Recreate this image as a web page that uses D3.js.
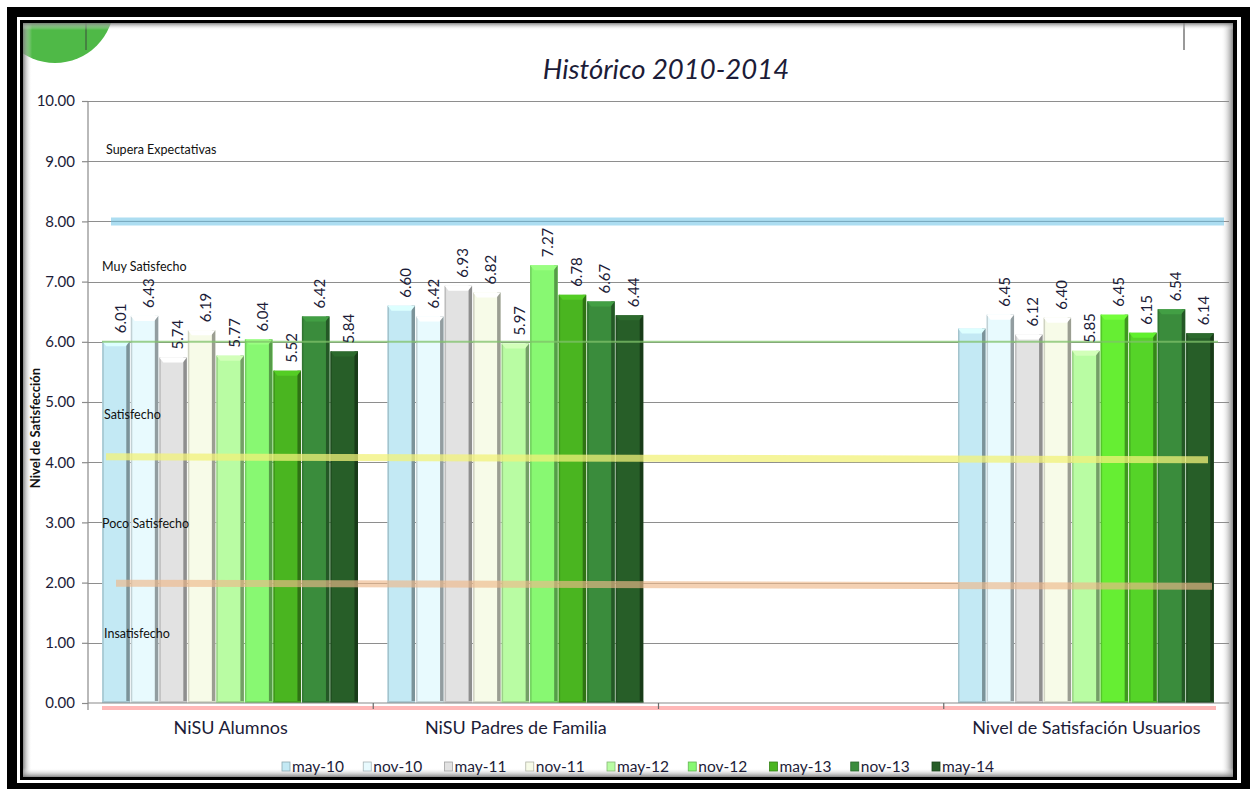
<!DOCTYPE html>
<html>
<head>
<meta charset="utf-8">
<script src="https://cdn.jsdelivr.net/npm/d3@7"></script>
<style>
  html, body { margin: 0; padding: 0; background: #ffffff; }
  svg { display: block; }
</style>
</head>
<body>
<svg id="chart" width="1250" height="791"></svg>
<script>
// ---------------- DATA ----------------
const categories = ["NiSU Alumnos", "NiSU Padres de Familia", "", "Nivel de Satisfación Usuarios"];
const seriesNames = ["may-10", "nov-10", "may-11", "nov-11", "may-12", "nov-12", "may-13", "nov-13", "may-14"];
const alumnosValues = [6.01, 6.43, 5.74, 6.19, 5.77, 6.04, 5.52, 6.42, 5.84];
const padresValues  = [6.60, 6.42, 6.93, 6.82, 5.97, 7.27, 6.78, 6.67, 6.44];
const emptyValues   = [null, null, null, null, null, null, null, null, null];
const usuariosValues = [6.22, 6.45, 6.12, 6.40, 5.85, 6.45, 6.15, 6.54, 6.14];
const usuariosLabelShown = [false, true, true, true, true, true, true, true, true];
const yTickValues = [0, 1, 2, 3, 4, 5, 6, 7, 8, 9, 10];
const levelLabels = ["Supera Expectativas", "Muy Satisfecho", "Satisfecho", "Poco Satisfecho", "Insatisfecho"];
const levelLabelValues = [9.18, 7.24, 4.78, 2.98, 1.15];
const chartTitle = "Histórico 2010-2014";
const yAxisTitle = "Nivel de Satisfección";

// ---------------- STYLE ----------------
const seriesColors = ["#c3e9f4", "#e8fafe", "#e2e2e2", "#f7fbe8", "#b9fca3", "#88f872", "#4ab520", "#3a8c3c", "#275e28"];
const seriesColorsUsuarios = ["#c3e9f4", "#e8fafe", "#e2e2e2", "#f7fbe8", "#b9fca3", "#66ee33", "#55d428", "#3a8c3c", "#275e28"];
const textDark = "#1c1c38";
const FONT = "Lato, 'Open Sans', sans-serif";

const groupValues = [alumnosValues, padresValues, emptyValues, usuariosValues];

const svg = d3.select("#chart");

// ---------------- FRAME ----------------
svg.append("rect").attr("x", 7).attr("y", 7).attr("width", 1243).attr("height", 782).attr("fill", "#000");
svg.append("rect").attr("x", 17).attr("y", 17).attr("width", 1224).attr("height", 766).attr("fill", "#fff");
svg.append("rect").attr("x", 20).attr("y", 20).attr("width", 1217).attr("height", 760).attr("fill", "#000");
svg.append("rect").attr("x", 23).attr("y", 23).attr("width", 1210).attr("height", 754).attr("fill", "#fff");

const defs = svg.append("defs");
defs.append("clipPath").attr("id", "contentClip")
  .append("rect").attr("x", 23).attr("y", 23).attr("width", 1210).attr("height", 754);

function shadowGrad(id, x1, y1, x2, y2) {
  const g = defs.append("linearGradient").attr("id", id)
    .attr("x1", x1).attr("y1", y1).attr("x2", x2).attr("y2", y2);
  g.append("stop").attr("offset", "0%").attr("stop-color", "#7a7a7a").attr("stop-opacity", 0.9);
  g.append("stop").attr("offset", "100%").attr("stop-color", "#ffffff").attr("stop-opacity", 0);
}
shadowGrad("shL", "0", "0", "1", "0");
shadowGrad("shR", "1", "0", "0", "0");
shadowGrad("shT", "0", "0", "0", "1");
shadowGrad("shB", "0", "1", "0", "0");

const content = svg.append("g").attr("clip-path", "url(#contentClip)");
content.append("circle").attr("cx", 55).attr("cy", 4).attr("r", 59).attr("fill", "#4fb947");
content.append("line").attr("x1", 86).attr("x2", 86).attr("y1", 23).attr("y2", 50)
  .attr("stroke", "#3d4a3d").attr("stroke-width", 1);
content.append("line").attr("x1", 1184).attr("x2", 1184).attr("y1", 23).attr("y2", 50)
  .attr("stroke", "#777").attr("stroke-width", 1.5);
content.append("rect").attr("x", 23).attr("y", 23).attr("width", 9).attr("height", 754).attr("fill", "url(#shL)");
content.append("rect").attr("x", 1221).attr("y", 23).attr("width", 12).attr("height", 754).attr("fill", "url(#shR)");
content.append("rect").attr("x", 23).attr("y", 23).attr("width", 1210).attr("height", 7).attr("fill", "url(#shT)");
content.append("rect").attr("x", 23).attr("y", 768).attr("width", 1210).attr("height", 9).attr("fill", "url(#shB)");

// ---------------- SCALES ----------------
const plotLeft = 88, plotRight = 1229, plotTop = 101, plotBottom = 703;
const y = d3.scaleLinear().domain([0, 10]).range([plotBottom, plotTop]);
const x0 = d3.scaleBand().domain(d3.range(categories.length)).range([plotLeft, plotRight]).paddingInner(0).paddingOuter(0);
const x1 = d3.scaleBand().domain(seriesNames).range([0, x0.bandwidth()]).paddingInner(0).paddingOuter(0.5);

// ---------------- TITLE ----------------
svg.append("text").attr("x", 666).attr("y", 79).attr("text-anchor", "middle")
  .attr("font-family", FONT).attr("font-style", "italic").attr("font-size", 27.5)
  .attr("fill", textDark).text(chartTitle);

// ---------------- GRID ----------------
svg.append("g").selectAll("line").data(yTickValues.filter(d => d > 0)).join("line")
  .attr("x1", plotLeft).attr("x2", plotRight)
  .attr("y1", d => Math.round(y(d)) + 0.5).attr("y2", d => Math.round(y(d)) + 0.5)
  .attr("stroke", "#8e8e8e").attr("stroke-width", 1.2);

// ---------------- BARS ----------------
const bars = svg.append("g");
groupValues.forEach((vals, gi) => {
  const colors = gi === 3 ? seriesColorsUsuarios : seriesColors;
  vals.forEach((v, si) => {
    if (v == null) return;
    const bx = x0(gi) + x1(seriesNames[si]);
    const bw = x1.bandwidth() - 1;
    const top = y(v);
    const h = y(0) - top;
    const c = d3.color(colors[si]);
    const g = bars.append("g");
    g.append("rect").attr("x", bx).attr("y", top).attr("width", bw).attr("height", h).attr("fill", c.formatHex());
    g.append("rect").attr("x", bx).attr("y", top).attr("width", 1.5).attr("height", h)
      .attr("fill", c.darker(0.5).formatHex());
    g.append("rect").attr("x", bx + bw - 3.5).attr("y", top).attr("width", 3.5).attr("height", h)
      .attr("fill", c.darker(1.3).formatHex());
    g.append("polygon")
      .attr("points", [[bx, top], [bx + bw, top], [bx + bw - 4, top + 5], [bx + 4, top + 5]].map(p => p.join(",")).join(" "))
      .attr("fill", c.brighter(0.35).formatHex());
    g.append("rect").attr("x", bx).attr("y", y(0) - 2).attr("width", bw).attr("height", 2)
      .attr("fill", c.darker(0.4).formatHex());
  });
});

// ---------------- LEVEL BANDS ----------------
const bandsG = svg.append("g");
bandsG.append("line").attr("x1", 102).attr("x2", 1218).attr("y1", y(6.0)).attr("y2", y(6.0))
  .attr("stroke", "#7fc26a").attr("stroke-opacity", 0.75).attr("stroke-width", 2);
bandsG.append("line").attr("x1", 111).attr("x2", 1224).attr("y1", y(8.0)).attr("y2", y(8.0))
  .attr("stroke", "#9dd7ef").attr("stroke-opacity", 0.85).attr("stroke-width", 8);
bandsG.append("line").attr("x1", 111).attr("x2", 1224).attr("y1", y(8.0)).attr("y2", y(8.0))
  .attr("stroke", "#5a8aa0").attr("stroke-opacity", 0.55).attr("stroke-width", 1);
bandsG.append("line").attr("x1", 106).attr("x2", 1208).attr("y1", y(4.09)).attr("y2", y(4.04))
  .attr("stroke", "#f2f27a").attr("stroke-opacity", 0.75).attr("stroke-width", 7);
bandsG.append("line").attr("x1", 116).attr("x2", 1212).attr("y1", y(1.99)).attr("y2", y(1.94))
  .attr("stroke", "#eeb88a").attr("stroke-opacity", 0.65).attr("stroke-width", 7);
bandsG.append("line").attr("x1", 102).attr("x2", 1216).attr("y1", y(0) + 5).attr("y2", y(0) + 5)
  .attr("stroke", "#ffb0b0").attr("stroke-opacity", 0.9).attr("stroke-width", 4);

// ---------------- AXES ----------------
const yAxis = d3.axisLeft(y).tickValues(yTickValues).tickFormat(d3.format(".2f")).tickSize(6).tickPadding(7);
const yg = svg.append("g").attr("transform", `translate(${plotLeft},0)`).call(yAxis);
yg.select(".domain").attr("stroke", "#8a8a8a").attr("stroke-width", 1.2).attr("d", `M0,${plotTop}V${plotBottom + 7}`);
yg.selectAll(".tick line").attr("stroke", "#8a8a8a").attr("stroke-width", 1.2);
yg.selectAll(".tick text").attr("font-family", FONT).attr("font-size", 15).attr("fill", textDark);

const xAxis = d3.axisBottom(x0).tickSize(0).tickFormat(i => categories[i]).tickPadding(18);
const xg = svg.append("g").attr("transform", `translate(0,${plotBottom})`).call(xAxis);
xg.select(".domain").attr("stroke", "#8a8a8a").attr("stroke-width", 1.2).attr("d", `M${plotLeft},0H${plotRight}`);
xg.selectAll(".tick text").attr("font-family", FONT).attr("font-size", 18).attr("fill", textDark);
svg.append("g").selectAll("line").data(d3.range(1, categories.length)).join("line")
  .attr("x1", i => x0(i)).attr("x2", i => x0(i))
  .attr("y1", plotBottom).attr("y2", plotBottom + 6)
  .attr("stroke", "#6a6a6a").attr("stroke-width", 1.2);

svg.append("text").attr("transform", `translate(40,428) rotate(-90)`).attr("text-anchor", "middle")
  .attr("font-family", FONT).attr("font-weight", "bold").attr("font-size", 13)
  .attr("fill", "#111").text(yAxisTitle);

// ---------------- LEVEL LABELS ----------------
svg.append("g").selectAll("text").data(levelLabels).join("text")
  .attr("x", (d, i) => [106, 102, 104, 102, 104][i])
  .attr("y", (d, i) => y(levelLabelValues[i]) + 4)
  .attr("font-family", FONT).attr("font-size", 12.5).attr("fill", "#111")
  .text(d => d);

// ---------------- VALUE LABELS ----------------
const lblG = svg.append("g");
groupValues.forEach((vals, gi) => {
  vals.forEach((v, si) => {
    if (v == null) return;
    if (gi === 3 && !usuariosLabelShown[si]) return;
    const cx = x0(gi) + x1(seriesNames[si]) + x1.bandwidth() / 2;
    const ty = y(v) - 8;
    lblG.append("text")
      .attr("transform", `translate(${cx + 9},${ty}) rotate(-90)`)
      .attr("text-anchor", "start")
      .attr("font-family", FONT).attr("font-size", 15).attr("fill", textDark)
      .text(d3.format(".2f")(v));
  });
});

// ---------------- LEGEND ----------------
const lx = d3.scalePoint().domain(seriesNames).range([282, 932]);
const leg = svg.append("g");
seriesNames.forEach((s, i) => {
  const c = d3.color(seriesColors[i]);
  const gx = lx(s);
  leg.append("rect").attr("x", gx).attr("y", 762).attr("width", 8).attr("height", 9)
    .attr("fill", c.formatHex()).attr("stroke", c.darker(0.9).formatHex()).attr("stroke-width", 0.8);
  leg.append("text").attr("x", gx + 10).attr("y", 772)
    .attr("font-family", FONT).attr("font-size", 15.5).attr("fill", textDark).text(s);
});
</script>
</body>
</html>
